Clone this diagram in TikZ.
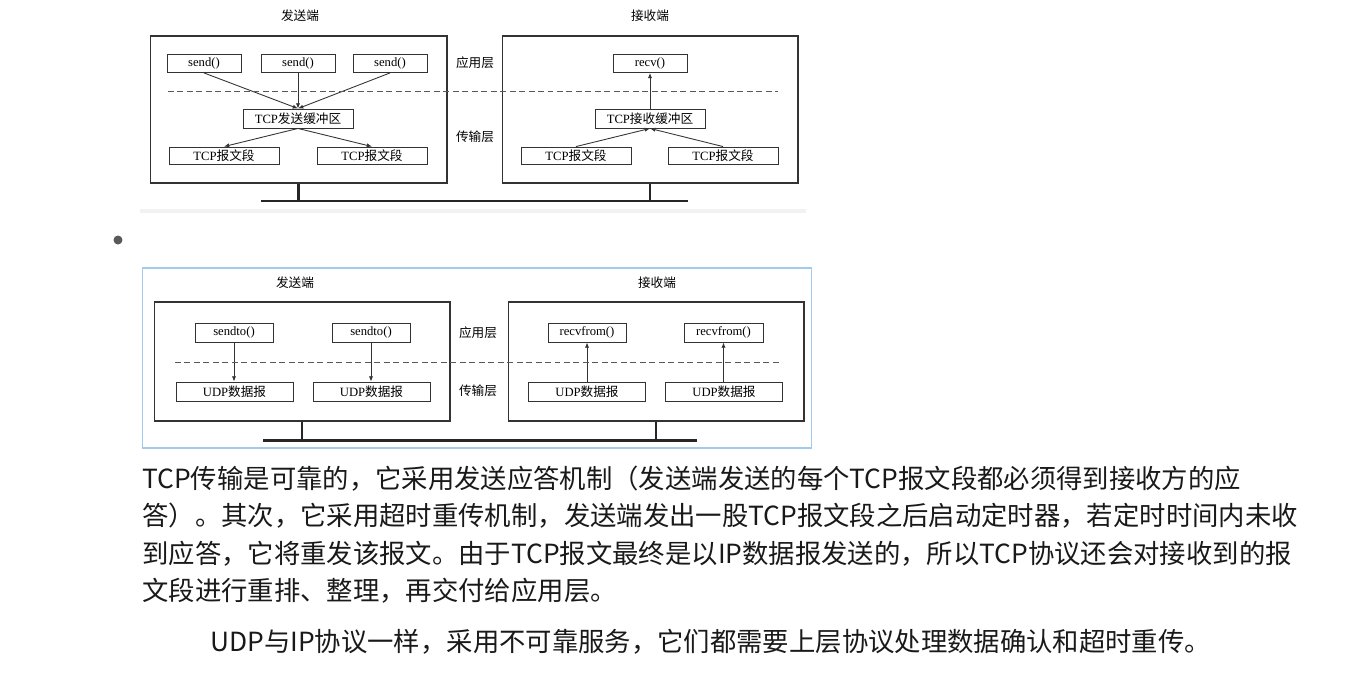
\documentclass[tikz,border=0pt]{standalone}
\usepackage{fontspec}
\setmainfont{Liberation Serif}
\newfontfamily\cjk{Noto Sans CJK SC}
\usepackage{xcolor}
\usetikzlibrary{arrows.meta}
\definecolor{framebl}{RGB}{160,202,238}

\begin{document}
\begin{tikzpicture}[
  x=0.02cm, y=-0.02cm,
  >={Latex[length=3pt,width=2.4pt]},
  host/.style={draw=black!80, line width=0.6pt, inner sep=0pt},
  func/.style={draw=black!80, line width=0.5pt, inner sep=0pt, font=\fontsize{7.2}{8}\selectfont},
  callbox/.style={func, minimum width=1.48cm, minimum height=0.36cm},
  bufbox/.style={func, minimum width=2.2cm, minimum height=0.38cm},
  segbox/.style={func, minimum width=2.2cm, minimum height=0.34cm},
  dgbox/.style={func, minimum width=2.34cm, minimum height=0.38cm},
  lbl/.style={font=\cjk\fontsize{7.2}{8}\selectfont, inner sep=0pt},
  divider/.style={draw=black!65, line width=0.5pt, dash pattern=on 3.4pt off 2pt},
  wire/.style={->, draw=black!80, line width=0.5pt},
  bus/.style={draw=black!85, line width=1.7pt},
  para/.style={anchor=west, inner sep=0pt, font=\cjk\fontsize{15}{18}\selectfont, text=black!90}
]
\useasboundingbox (0,0) rectangle (1350,680);

% TCP: hosts and titles
\node[host, minimum width=5.94cm, minimum height=2.94cm] (tsend) at (298.5,109.5) {};
\node[host, minimum width=5.92cm, minimum height=2.94cm] (trecv) at (650,109.5) {};
\node[lbl] (tsendt) at (300,16) {发送端};
\node[lbl] (trecvt) at (650,16) {接收端};
\node[lbl] (tapp)   at (475,63) {应用层};
\node[lbl] (ttrans) at (475,137) {传输层};

% TCP sender
\node[callbox] (snd1) at (204,63.5) {send()};
\node[callbox] (snd2) at (298,63.5) {send()};
\node[callbox] (snd3) at (390,63.5) {send()};
\node[bufbox] (sbuf) at (298,118.5) {TCP{\cjk 发送缓冲区}};
\node[segbox] (sseg1) at (224,155.5) {TCP{\cjk 报文段}};
\node[segbox] (sseg2) at (372,155.5) {TCP{\cjk 报文段}};
\draw[wire] (snd1.south) -- (sbuf.north);
\draw[wire] (snd2.south) -- (sbuf.north);
\draw[wire] (snd3.south) -- (sbuf.north);
\draw[wire] (sbuf.south) -- (sseg1.north);
\draw[wire] (sbuf.south) -- (sseg2.north);

% TCP receiver
\node[callbox] (rcv) at (650,63.5) {recv()};
\node[bufbox] (rbuf) at (650,118.5) {TCP{\cjk 接收缓冲区}};
\node[segbox] (rseg1) at (576,155.5) {TCP{\cjk 报文段}};
\node[segbox] (rseg2) at (723,155.5) {TCP{\cjk 报文段}};
\draw[wire] (rseg1.north) -- (rbuf.south);
\draw[wire] (rseg2.north) -- (rbuf.south);
\draw[wire] (rbuf.north) -- (rcv.south);

% layer line and network
\coordinate (tdl) at (168,91);
\coordinate (tdr) at (778,91);
\draw[divider] (tdl) -- (tdr);
\coordinate (tbusl) at (261,201);
\coordinate (tbusr) at (688,201);
\draw[bus] (tbusl) -- (tbusr);
\draw[bus] (tsend.south) -- (tsend.south |- tbusl);
\draw[bus] (trecv.south) -- (trecv.south |- tbusl);
\fill[black!5] (140,209) rectangle (806,213);

% list bullet
\node[circle, fill=black!65, inner sep=0pt, minimum size=0.18cm] (dot) at (118,240) {};

% UDP: frame, hosts and titles
\node[draw=framebl, line width=0.6pt, minimum width=13.4cm, minimum height=3.6cm, inner sep=0pt] (uframe) at (477,358) {};
\node[host, minimum width=5.92cm, minimum height=2.38cm] (usend) at (302,361.5) {};
\node[host, minimum width=5.92cm, minimum height=2.38cm] (urecv) at (656,361.5) {};
\node[lbl] (usendt) at (295,283) {发送端};
\node[lbl] (urecvt) at (657,283) {接收端};
\node[lbl] (uapp)   at (478,333) {应用层};
\node[lbl] (utrans) at (478,391) {传输层};

% UDP sender
\node[callbox, minimum width=1.56cm, minimum height=0.38cm] (sto1) at (234,332.5) {sendto()};
\node[callbox, minimum width=1.56cm, minimum height=0.38cm] (sto2) at (371,332.5) {sendto()};
\node[dgbox] (sdg1) at (234.5,391.5) {UDP{\cjk 数据报}};
\node[dgbox] (sdg2) at (371.5,391.5) {UDP{\cjk 数据报}};
\draw[wire] (sto1.south) -- (sdg1.north -| sto1.south);
\draw[wire] (sto2.south) -- (sdg2.north -| sto2.south);

% UDP receiver
\node[callbox, minimum width=1.56cm, minimum height=0.38cm] (rfr1) at (587,332.5) {recvfrom()};
\node[callbox, minimum width=1.58cm, minimum height=0.38cm] (rfr2) at (723.5,332.5) {recvfrom()};
\node[dgbox] (rdg1) at (587,391.5) {UDP{\cjk 数据报}};
\node[dgbox] (rdg2) at (724,391.5) {UDP{\cjk 数据报}};
\draw[wire] (rdg1.north -| rfr1.south) -- (rfr1.south);
\draw[wire] (rdg2.north -| rfr2.south) -- (rfr2.south);

% layer line and network
\coordinate (udl) at (175,362);
\coordinate (udr) at (780,362);
\draw[divider] (udl) -- (udr);
\coordinate (ubusl) at (263,440);
\coordinate (ubusr) at (697,440);
\draw[bus] (ubusl) -- (ubusr);
\draw[bus] (usend.south) -- (usend.south |- ubusl);
\draw[bus] (urecv.south) -- (urecv.south |- ubusl);

% text below
\node[para] (p1) at (142,479) {TCP传输是可靠的，它采用发送应答机制（发送端发送的每个TCP报文段都必须得到接收方的应};
\node[para] (p2) at (142,516) {答）。其次，它采用超时重传机制，发送端发出一股TCP报文段之后启动定时器，若定时时间内未收};
\node[para] (p3) at (142,554) {到应答，它将重发该报文。由于TCP报文最终是以IP数据报发送的，所以TCP协议还会对接收到的报};
\node[para] (p4) at (142,591) {文段进行重排、整理，再交付给应用层。};
\node[para] (p5) at (210,642) {UDP与IP协议一样，采用不可靠服务，它们都需要上层协议处理数据确认和超时重传。};
\end{tikzpicture}
\end{document}
